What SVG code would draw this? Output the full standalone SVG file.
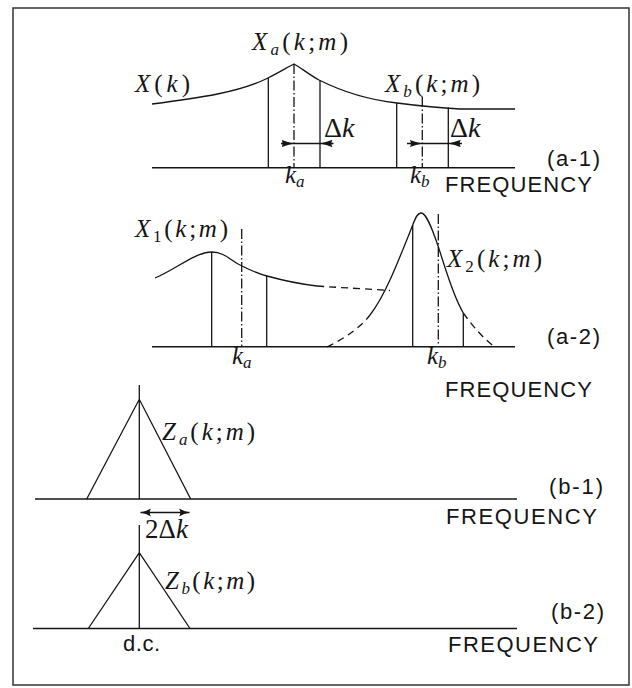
<svg xmlns="http://www.w3.org/2000/svg" width="632" height="688" viewBox="0 0 632 688">
<style>
.ln{fill:none;stroke:#151515;stroke-width:1.3}
.ax{fill:none;stroke:#151515;stroke-width:1.6}
.dd{fill:none;stroke:#151515;stroke-width:1.3;stroke-dasharray:10 2.5 1.5 2.5}
.dsh{fill:none;stroke:#151515;stroke-width:1.3;stroke-dasharray:7 5}
.m{font-family:"Liberation Serif","Times New Roman",serif;font-size:25px;fill:#151515}
.d{font-size:28px}
.i{font-style:italic}
.sb{font-size:17px}
.s{font-family:"Liberation Sans",Arial,sans-serif;font-size:22px;fill:#151515}
</style>
<defs>
<marker id="ah" markerUnits="userSpaceOnUse" markerWidth="14" markerHeight="10" refX="12.5" refY="5" orient="auto">
<path d="M0,1.3 Q6,3.6 12.5,5 Q6,6.4 0,8.7 Q2.2,5 0,1.3Z" fill="#151515"/>
</marker>
<marker id="ah2" markerUnits="userSpaceOnUse" markerWidth="12" markerHeight="10" refX="10.5" refY="5" orient="auto-start-reverse">
<path d="M0,1 Q5,3.8 10.5,5 Q5,6.2 0,9 Q2.5,5 0,1Z" fill="#151515"/>
</marker>
</defs>
<rect x="13" y="8" width="616" height="677" fill="#fff" stroke="#333" stroke-width="1.5"/>

<g id="panel-a1">
<path class="ax" d="M152,167.7 H515"/>
<path class="ln" d="M152,104 C200,98 240,92 268,78 C280,72 288,67 294,64 C300,67 308,74 319,80 C345,93 370,100 397,103 C420,106 440,108 460,109 L515,109"/>
<path class="ln" d="M268.3,78 V167.7 M320,80.5 V167.7 M396.7,103 V167.7 M448.3,107.5 V167.7"/>
<path class="dd" d="M294,64 V167.7 M422.3,97 V167.7"/>
<g id="dk-a">
<path class="ln" d="M281,143.5 H333.5"/>
<path d="M281,143.5 H294" stroke="none" fill="none" marker-end="url(#ah)"/>
<path d="M333.5,143.5 H320" stroke="none" fill="none" marker-end="url(#ah)"/>
</g>
<g id="dk-b">
<path class="ln" d="M407,143.5 H462"/>
<path d="M407,143.5 H422.3" stroke="none" fill="none" marker-end="url(#ah)"/>
<path d="M462,143.5 H448.3" stroke="none" fill="none" marker-end="url(#ah)"/>
</g>
<text class="m" x="135" y="92" textLength="55" lengthAdjust="spacing"><tspan class="i">X</tspan>(<tspan class="i">k</tspan>)</text>
<text class="m" x="252" y="50" textLength="96" lengthAdjust="spacing"><tspan class="i">X</tspan><tspan class="i sb" dy="5">a</tspan><tspan dy="-5">(</tspan><tspan class="i">k</tspan>;<tspan class="i">m</tspan>)</text>
<text class="m" x="385" y="92" textLength="95" lengthAdjust="spacing"><tspan class="i">X</tspan><tspan class="i sb" dy="5">b</tspan><tspan dy="-5">(</tspan><tspan class="i">k</tspan>;<tspan class="i">m</tspan>)</text>
<text class="m d" x="324" y="137">Δ<tspan class="i">k</tspan></text>
<text class="m d" x="450" y="137">Δ<tspan class="i">k</tspan></text>
<text class="m" x="285" y="183"><tspan class="i">k</tspan><tspan class="i sb" dy="4">a</tspan></text>
<text class="m" x="410" y="183"><tspan class="i">k</tspan><tspan class="i sb" dy="4">b</tspan></text>
<text class="s" x="547" y="166" textLength="53" lengthAdjust="spacing">(a-1)</text>
<text class="s" x="445" y="192" textLength="147" lengthAdjust="spacing">FREQUENCY</text>
</g>

<g id="panel-a2">
<path class="ax" d="M152,346.7 H515"/>
<path class="ln" d="M155,278 C175,270 195,252 212,252 C225,252 232,262 242,266 C250,270 258,274 267,276 C285,281 300,284 317,286"/>
<path class="dsh" d="M317,286 C345,288 370,289 390,290.5"/>
<path class="dsh" d="M327,347 C345,338 360,328 370,315"/>
<path class="ln" d="M370,315 C385,296 398,262 412.7,225 C416,216 418,213 421,213 C426,213 431,225 438.3,246.7 C446,270 453,296 463.3,313"/>
<path class="dsh" d="M463.3,313 C474,328 485,340 495,347"/>
<path class="ln" d="M211.7,252 V346.7 M266.7,276 V346.7 M412.7,225 V346.7 M463.3,313 V346.7"/>
<path class="dd" d="M241.7,229 V346.7 M438.3,214 V346.7"/>
<text class="m" x="135" y="237" textLength="93" lengthAdjust="spacing"><tspan class="i">X</tspan><tspan class="sb" dy="5">1</tspan><tspan dy="-5">(</tspan><tspan class="i">k</tspan>;<tspan class="i">m</tspan>)</text>
<text class="m" x="447" y="267" textLength="95" lengthAdjust="spacing"><tspan class="i">X</tspan><tspan class="sb" dy="5">2</tspan><tspan dy="-5">(</tspan><tspan class="i">k</tspan>;<tspan class="i">m</tspan>)</text>
<text class="m" x="232" y="364"><tspan class="i">k</tspan><tspan class="i sb" dy="4">a</tspan></text>
<text class="m" x="427" y="364"><tspan class="i">k</tspan><tspan class="i sb" dy="4">b</tspan></text>
<text class="s" x="547" y="344" textLength="53" lengthAdjust="spacing">(a-2)</text>
<text class="s" x="445" y="397" textLength="147" lengthAdjust="spacing">FREQUENCY</text>
</g>

<g id="panel-b1">
<path class="ax" d="M35,499 H517"/>
<path class="ln" d="M86.7,499 L139.3,399.3 L190.7,499 M139.3,385 V499"/>
<path class="ln" d="M140.5,512.5 H189.5" marker-start="url(#ah2)" marker-end="url(#ah2)"/>
<text class="m" x="162" y="440" textLength="93" lengthAdjust="spacing"><tspan class="i">Z</tspan><tspan class="i sb" dy="5">a</tspan><tspan dy="-5">(</tspan><tspan class="i">k</tspan>;<tspan class="i">m</tspan>)</text>
<text class="m" x="145" y="538" style="font-size:27px">2Δ<tspan class="i">k</tspan></text>
<text class="s" x="549" y="494" textLength="54" lengthAdjust="spacing">(b-1)</text>
<text class="s" x="446" y="524" textLength="151" lengthAdjust="spacing">FREQUENCY</text>
</g>

<g id="panel-b2">
<path class="ax" d="M33,628.5 H517"/>
<path class="ln" d="M88.3,628.5 L139.3,552.7 L190,628.5 M139.3,525 V628.5"/>
<text class="m" x="165" y="589" textLength="90" lengthAdjust="spacing"><tspan class="i">Z</tspan><tspan class="i sb" dy="5">b</tspan><tspan dy="-5">(</tspan><tspan class="i">k</tspan>;<tspan class="i">m</tspan>)</text>
<text class="s" x="123" y="651" textLength="37" lengthAdjust="spacing">d.c.</text>
<text class="s" x="551" y="619" textLength="53" lengthAdjust="spacing">(b-2)</text>
<text class="s" x="448" y="652" textLength="150" lengthAdjust="spacing">FREQUENCY</text>
</g>
</svg>
